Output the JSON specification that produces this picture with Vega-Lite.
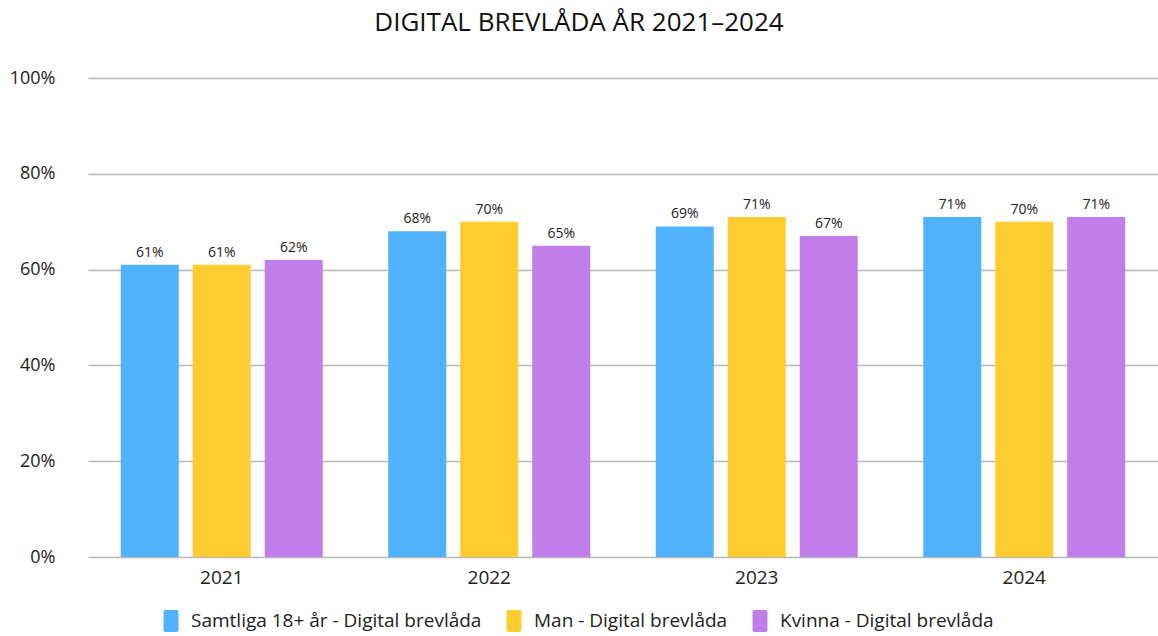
{
  "$schema": "https://vega.github.io/schema/vega-lite/v6.json",
  "autosize": "none",
  "width": 1070,
  "height": 479,
  "padding": {"left": 88, "top": 78, "right": 0, "bottom": 79},
  "background": "white",
  "title": {
    "text": "DIGITAL BREVLÅDA ÅR 2021–2024",
    "anchor": "middle",
    "dx": -44,
    "offset": 33,
    "font": "Open Sans",
    "fontSize": 26,
    "fontWeight": "normal",
    "color": "#111111"
  },
  "data": {
    "values": [
      {"year": "2021", "series": "Samtliga 18+ år - Digital brevlåda", "value": 0.61},
      {"year": "2021", "series": "Man - Digital brevlåda", "value": 0.61},
      {"year": "2021", "series": "Kvinna - Digital brevlåda", "value": 0.62},
      {"year": "2022", "series": "Samtliga 18+ år - Digital brevlåda", "value": 0.68},
      {"year": "2022", "series": "Man - Digital brevlåda", "value": 0.70},
      {"year": "2022", "series": "Kvinna - Digital brevlåda", "value": 0.65},
      {"year": "2023", "series": "Samtliga 18+ år - Digital brevlåda", "value": 0.69},
      {"year": "2023", "series": "Man - Digital brevlåda", "value": 0.71},
      {"year": "2023", "series": "Kvinna - Digital brevlåda", "value": 0.67},
      {"year": "2024", "series": "Samtliga 18+ år - Digital brevlåda", "value": 0.71},
      {"year": "2024", "series": "Man - Digital brevlåda", "value": 0.70},
      {"year": "2024", "series": "Kvinna - Digital brevlåda", "value": 0.71}
    ]
  },
  "encoding": {
    "x": {
      "field": "year",
      "type": "nominal",
      "title": null,
      "scale": {"paddingInner": 0.245, "paddingOuter": 0.1225},
      "axis": {
        "labelAngle": 0,
        "ticks": false,
        "domain": false,
        "labelPadding": 11,
        "labelFont": "Open Sans",
        "labelFontSize": 19,
        "labelColor": "#222222"
      }
    },
    "xOffset": {
      "field": "series",
      "type": "nominal",
      "sort": ["Samtliga 18+ år - Digital brevlåda", "Man - Digital brevlåda", "Kvinna - Digital brevlåda"],
      "scale": {"paddingInner": 0.194, "paddingOuter": 0}
    },
    "y": {
      "field": "value",
      "type": "quantitative",
      "title": null,
      "scale": {"domain": [0, 1]},
      "axis": {
        "format": ".0%",
        "values": [0, 0.2, 0.4, 0.6, 0.8, 1],
        "labelOverlap": false,
        "ticks": false,
        "domain": false,
        "labelPadding": 33,
        "labelFont": "Open Sans",
        "labelFontSize": 18,
        "labelColor": "#222222",
        "gridColor": "#b8b8b8",
        "gridWidth": 1.3
      }
    }
  },
  "layer": [
    {
      "mark": {"type": "bar"},
      "encoding": {
        "color": {
          "field": "series",
          "type": "nominal",
          "title": null,
          "scale": {
            "domain": ["Samtliga 18+ år - Digital brevlåda", "Man - Digital brevlåda", "Kvinna - Digital brevlåda"],
            "range": ["#50b2fc", "#ffcc30", "#c17de9"]
          },
          "legend": {
            "orient": "none",
            "direction": "horizontal",
            "legendX": 72,
            "legendY": 532,
            "symbolType": "M -0.5,-1 H 0.5 A 0.18 0.18 0 0 1 0.68 -0.82 V 0.82 A 0.18 0.18 0 0 1 0.5 1 H -0.5 A 0.18 0.18 0 0 1 -0.68 0.82 V -0.82 A 0.18 0.18 0 0 1 -0.5 -1 Z",
            "symbolSize": 484,
            "symbolStrokeWidth": 0,
            "labelFont": "Open Sans",
            "labelFontSize": 19,
            "labelColor": "#222222",
            "labelOffset": 9,
            "columnPadding": 21,
            "labelLimit": 400
          }
        }
      }
    },
    {
      "mark": {"type": "text", "baseline": "bottom", "dy": -5, "font": "Open Sans", "fontSize": 14, "color": "#222222"},
      "encoding": {
        "text": {"field": "value", "type": "quantitative", "format": ".0%"}
      }
    }
  ],
  "config": {
    "view": {"stroke": null}
  }
}
